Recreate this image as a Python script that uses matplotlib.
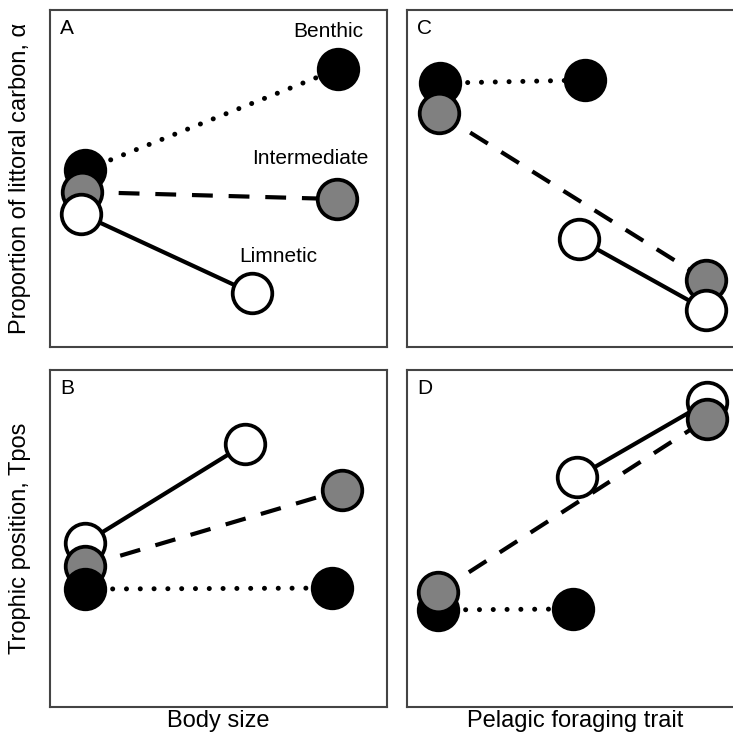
import matplotlib
matplotlib.use("Agg")
import matplotlib.pyplot as plt

plt.rcParams['font.family'] = ['Liberation Sans', 'DejaVu Sans']

morphs = ["Benthic", "Intermediate", "Limnetic"]
fills = ["black", "#808080", "white"]
styles = ["dotted", "dashed", "solid"]

# Panel A: proportion of littoral carbon vs body size (start point, end point)
a_x0 = [0.104, 0.095, 0.092]
a_x1 = [0.855, 0.852, 0.599]
a_y0 = [0.525, 0.460, 0.395]
a_y1 = [0.825, 0.439, 0.160]

# Panel B: trophic position vs body size
b_x0 = [0.104, 0.104, 0.104]
b_x1 = [0.837, 0.866, 0.579]
b_y0 = [0.350, 0.418, 0.487]
b_y1 = [0.353, 0.644, 0.780]

# Panel C: proportion of littoral carbon vs pelagic foraging trait
c_x0 = [0.099, 0.096, 0.511]
c_x1 = [0.528, 0.888, 0.888]
c_y0 = [0.783, 0.694, 0.320]
c_y1 = [0.792, 0.199, 0.110]

# Panel D: trophic position vs pelagic foraging trait
d_x0 = [0.093, 0.093, 0.506]
d_x1 = [0.494, 0.892, 0.892]
d_y0 = [0.288, 0.341, 0.682]
d_y1 = [0.291, 0.855, 0.905]

# stacking order (higher = on top) per panel
a_order = [1, 2, 3]
b_order = [3, 2, 1]
c_order = [1, 2, 3]
d_order = [1, 3, 2]

W, H = 733, 738
fig = plt.figure(figsize=(W / 100, H / 100), dpi=100)

def ax_at(left, top, size=337):
    return fig.add_axes([left / W, (H - top - size) / H, size / W, size / H])

axA = ax_at(50, 10)
axC = ax_at(406.7, 10)
axB = ax_at(50, 370)
axD = ax_at(406.7, 370)

lw_map = {"dotted": 3.6, "dashed": 3.0, "solid": 3.0}
ls_map = {
    "dotted": (0, (0.01, 2.75)),
    "dashed": (0, (5.0, 3.8)),
    "solid": "-",
}

def draw(ax, x0, x1, y0, y1, order, letter):
    for i in range(3):
        st = styles[i]
        ax.plot([x0[i], x1[i]], [y0[i], y1[i]], linestyle=ls_map[st], lw=lw_map[st],
                color="black", dash_capstyle="round" if st == "dotted" else "butt",
                solid_capstyle="butt", marker="o", ms=28.5, mfc=fills[i],
                mec="black", mew=2.7, zorder=order[i])
    ax.set_xlim(0, 1)
    ax.set_ylim(0, 1)
    ax.set_xticks([])
    ax.set_yticks([])
    for s in ax.spines.values():
        s.set_color("#444444")
        s.set_linewidth(1.5)
    ax.text(0.03, 0.945, letter, transform=ax.transAxes, fontsize=15,
            ha="left", va="center")

draw(axA, a_x0, a_x1, a_y0, a_y1, a_order, "A")
draw(axB, b_x0, b_x1, b_y0, b_y1, b_order, "B")
draw(axC, c_x0, c_x1, c_y0, c_y1, c_order, "C")
draw(axD, d_x0, d_x1, d_y0, d_y1, d_order, "D")

axA.text(0.825, 0.935, "Benthic", transform=axA.transAxes, fontsize=15, ha="center", va="center")
axA.text(0.772, 0.558, "Intermediate", transform=axA.transAxes, fontsize=15, ha="center", va="center")
axA.text(0.677, 0.270, "Limnetic", transform=axA.transAxes, fontsize=15, ha="center", va="center")

fig.text(20 / W, 1 - 178 / H, "Proportion of littoral carbon, α", rotation=90,
         fontsize=17, ha="center", va="center")
fig.text(20 / W, 1 - 538 / H, "Trophic position, Tpos", rotation=90,
         fontsize=17, ha="center", va="center")
fig.text(218.5 / W, 1 - 721 / H, "Body size", fontsize=17, ha="center", va="center")
fig.text(575 / W, 1 - 721 / H, "Pelagic foraging trait", fontsize=17, ha="center", va="center")

fig.savefig("out.png", dpi=100)
